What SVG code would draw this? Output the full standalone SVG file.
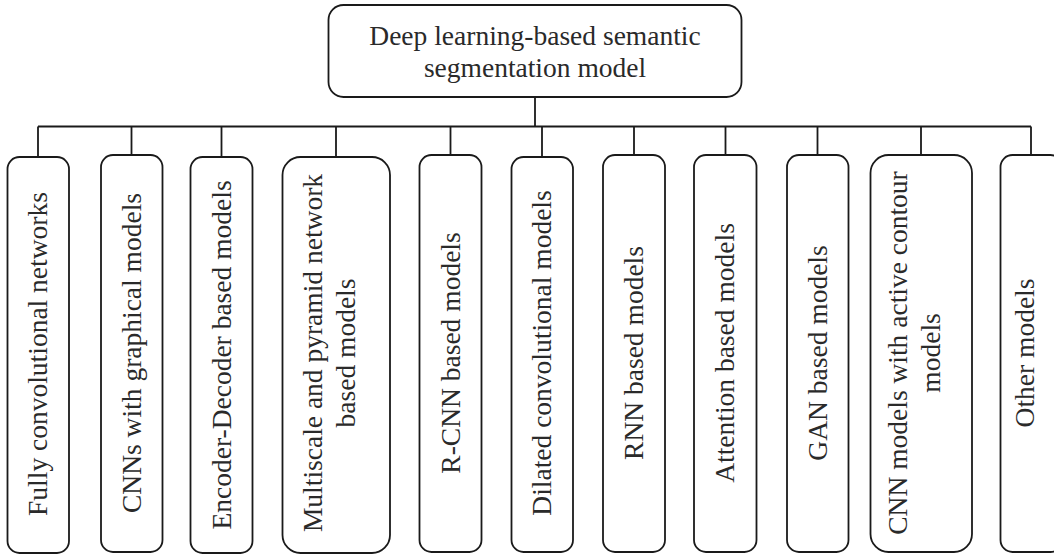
<svg xmlns="http://www.w3.org/2000/svg" width="1054" height="556" viewBox="0 0 1054 556">
<style>
.box{fill:#fff;stroke:#1a1a1a;stroke-width:1.8}
.ln{fill:none;stroke:#1a1a1a;stroke-width:1.8}
.t{font-family:"Liberation Serif","Times New Roman",serif;font-size:27.5px;fill:#2a2a2a;text-anchor:middle}
</style>
<rect width="1054" height="556" fill="#fff"/>
<g id="connectors">
<path class="ln" d="M535 97V126.5M38 126.5H1031M38 126.5V157M131.5 126.5V155M221.5 126.5V157M336 126.5V157M450.5 126.5V155M542 126.5V157M634 126.5V155M725.5 126.5V155M817.5 126.5V155M921 126.5V155M1031 126.5V155"/>
</g>
<g id="root">
<rect class="box" x="328.5" y="5" width="413" height="92" rx="15"/>
<text class="t" x="535" y="45">Deep learning-based semantic</text>
<text class="t" x="535" y="77">segmentation model</text>
</g>
<g id="n1"><rect class="box" x="7.5" y="157" width="61.5" height="396" rx="12"/>
<text class="t" transform="translate(47,354) rotate(-90)">Fully convolutional networks</text></g>
<g id="n2"><rect class="box" x="101" y="155" width="61.5" height="397" rx="12"/>
<text class="t" transform="translate(140.5,353) rotate(-90)">CNNs with graphical models</text></g>
<g id="n3"><rect class="box" x="190.5" y="157" width="62" height="396" rx="12"/>
<text class="t" transform="translate(230.5,355) rotate(-90)">Encoder-Decoder based models</text></g>
<g id="n4"><rect class="box" x="282.5" y="157" width="107.5" height="396" rx="18"/>
<text class="t" transform="translate(322,353) rotate(-90)">Multiscale and pyramid network</text>
<text class="t" transform="translate(355,353) rotate(-90)">based models</text></g>
<g id="n5"><rect class="box" x="419.5" y="155" width="62" height="397" rx="12"/>
<text class="t" transform="translate(459.5,353) rotate(-90)">R-CNN based models</text></g>
<g id="n6"><rect class="box" x="511.5" y="157" width="61.5" height="395" rx="12"/>
<text class="t" transform="translate(551,353) rotate(-90)">Dilated convolutional models</text></g>
<g id="n7"><rect class="box" x="603" y="155" width="62" height="397" rx="12"/>
<text class="t" transform="translate(643,353) rotate(-90)">RNN based models</text></g>
<g id="n8"><rect class="box" x="694" y="155" width="62.5" height="397" rx="12"/>
<text class="t" transform="translate(734,353) rotate(-90)">Attention based models</text></g>
<g id="n9"><rect class="box" x="787" y="155" width="61.5" height="397" rx="12"/>
<text class="t" transform="translate(826.5,353) rotate(-90)">GAN based models</text></g>
<g id="n10"><rect class="box" x="870.5" y="155" width="101.5" height="397" rx="18"/>
<text class="t" transform="translate(907,353) rotate(-90)">CNN models with active contour</text>
<text class="t" transform="translate(940,353) rotate(-90)">models</text></g>
<g id="n11"><rect class="box" x="1000.5" y="155" width="62" height="397" rx="12"/>
<text class="t" transform="translate(1034,353) rotate(-90)">Other models</text></g>
</svg>
